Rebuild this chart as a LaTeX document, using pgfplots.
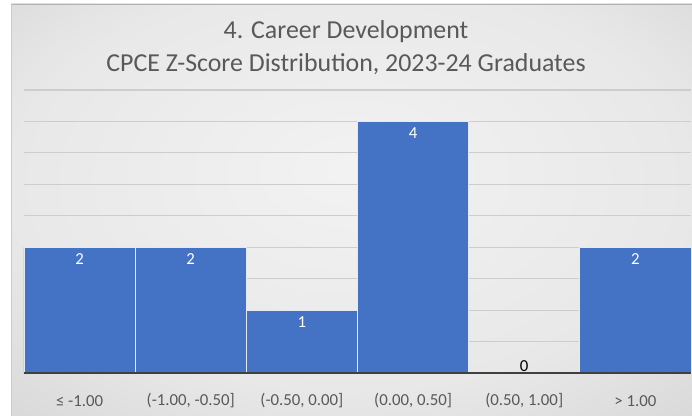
\documentclass[border=0pt]{standalone}
\usepackage{pgfplots}
\pgfplotsset{compat=1.18}
\usepackage{fontspec}
\setmainfont{Carlito}
\definecolor{barblue}{HTML}{4472C4}
\definecolor{txtgray}{HTML}{595959}
\definecolor{gridgray}{HTML}{CDCDCD}
\pgfdeclareradialshading{bgshade}{\pgfpoint{0bp}{5bp}}{color(0bp)=(black!5); color(25bp)=(black!9); color(50bp)=(black!21); color(72bp)=(black!25)}
\begin{document}
\begin{tikzpicture}
\useasboundingbox (0,0) rectangle (519pt,312pt);
\fill[white] (0,0) rectangle (519pt,312pt);
\shade[shading=bgshade] (8.25pt,0) rectangle (519pt,309pt);
\draw[black!30, line width=0.6pt] (8.25pt,309pt) -- (519pt,309pt);
\draw[black!20, line width=0.6pt] (8.25pt,0) -- (8.25pt,309pt);
\node[text=txtgray, font=\fontsize{19.4}{23}\selectfont] at (259.5pt,288.5pt) {4. Career Development};
\node[text=txtgray, font=\fontsize{19.4}{23}\selectfont] at (259.5pt,263.5pt) {CPCE Z-Score Distribution, 2023-24 Graduates};
\begin{axis}[
  at={(18pt,32.25pt)}, anchor=south west,
  scale only axis, width=500.25pt, height=212.25pt,
  ybar, bar width=83.375pt, bar shift=0pt,
  xmin=-0.5, xmax=5.5, ymin=0, ymax=4.5,
  separate axis lines,
  axis x line*=bottom, axis y line*=left,
  x axis line style={draw=none},
  y axis line style={draw=none},
  xtick={0,1,2,3,4,5}, xtick style={draw=none},
  ytick style={draw=none}, yticklabels={},
  xticklabels={{≤ -1.00},{(-1.00, -0.50]},{(-0.50, 0.00]},{(0.00, 0.50]},{(0.50, 1.00]},{> 1.00}},
  xticklabel style={text=txtgray, font=\fontsize{12.6}{14}\selectfont, anchor=center, yshift=-16.5pt},
  ytick={0.5,1,...,4.5},
  ymajorgrids, grid style={draw=gridgray, line width=0.9pt},
  clip=false,
]
\addplot[fill=barblue, draw=white!85!barblue, line width=0.6pt,
  nodes near coords, point meta=explicit symbolic,
  nodes near coords style={anchor=center, yshift=-9pt, text=white, font=\fontsize{12.6}{14}\selectfont}]
  coordinates {(0,2) [2] (1,2) [2] (2,1) [1] (3,4) [4] (5,2) [2]};
\addplot[sharp plot, draw=black!75, line width=1.8pt] coordinates {(-0.5,0) (5.5,0)};
\addplot[draw=none, fill=none,
  nodes near coords, point meta=explicit symbolic,
  nodes near coords style={anchor=center, yshift=5.25pt, text=black, font=\fontsize{12.6}{14}\selectfont}]
  coordinates {(4,0) [0]};
\end{axis}
\end{tikzpicture}
\end{document}
